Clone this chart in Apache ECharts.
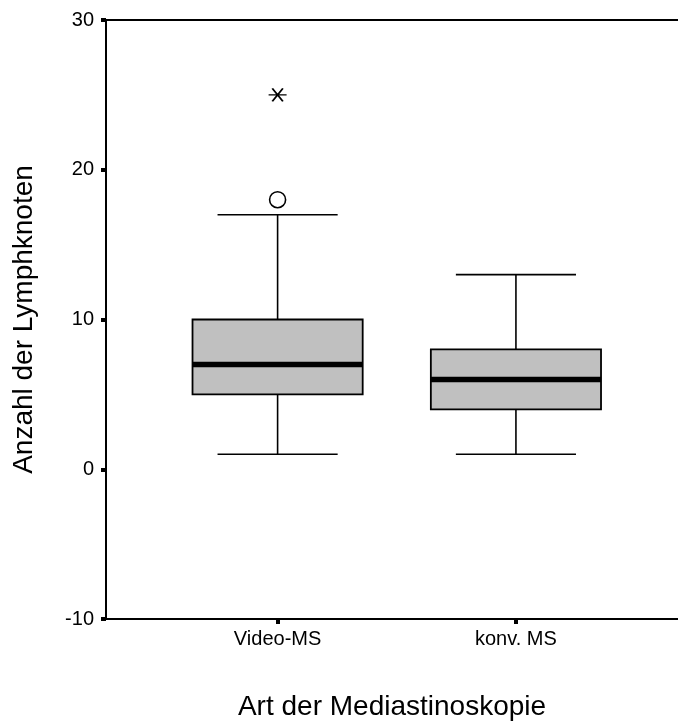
<!DOCTYPE html>
<html>
<head>
<meta charset="utf-8">
<script src="https://cdn.jsdelivr.net/npm/echarts@6/dist/echarts.min.js"></script>
<style>
html,body{margin:0;padding:0;background:#fff;}
#chart{width:678px;height:726px;}
</style>
</head>
<body>
<div id="chart"></div>
<script>
// ---- data ----
var categories = ['Video-MS', 'konv. MS'];
var whiskerLow = [1, 1];
var q1 = [5, 4];
var median = [7, 6];
var q3 = [10, 8];
var whiskerHigh = [17, 13];
var outlierPoints = [[0, 18]];   // [category index, value]  (circle)
var extremePoints = [[0, 25]];   // [category index, value]  (asterisk)
var yTicks = [-10, 0, 10, 20, 30];

// ---- build ----
var FONT = '"Liberation Sans", Arial, Helvetica, sans-serif';
var boxData = categories.map(function (c, i) {
  return [i + 1, whiskerLow[i], q1[i], median[i], q3[i], whiskerHigh[i]];
});
var outData = outlierPoints.map(function (p) { return [p[0] + 1, p[1]]; });
var extData = extremePoints.map(function (p) { return [p[0] + 1, p[1]]; });
var tickPos = categories.map(function (c, i) { return i + 1; });

var BOX_W = 0.714;  // in category units
var CAP_W = 0.504;

var chart = echarts.init(document.getElementById('chart'), null, {renderer: 'canvas'});
chart.setOption({
  animation: false,
  backgroundColor: '#fff',
  grid: {left: 106, right: 0, top: 20, bottom: 103, containLabel: false},
  xAxis: [{
    type: 'value', min: 0.28, max: 2.68, position: 'bottom',
    axisLine: {show: true, onZero: false, lineStyle: {color: '#000', width: 2}},
    axisTick: {show: true, customValues: tickPos, length: 5, lineStyle: {color: '#000', width: 4}},
    axisLabel: {show: true, customValues: tickPos, margin: 10, color: '#000', fontSize: 20, fontFamily: FONT,
      formatter: function (v) { return categories[Math.round(v) - 1] || ''; }},
    splitLine: {show: false},
    name: 'Art der Mediastinoskopie', nameLocation: 'middle', nameGap: 88,
    nameTextStyle: {color: '#000', fontSize: 28, fontFamily: FONT, verticalAlign: 'middle'}
  }, {
    type: 'value', min: 0.28, max: 2.68, position: 'top',
    axisLine: {show: true, onZero: false, lineStyle: {color: '#000', width: 2}},
    axisTick: {show: false}, axisLabel: {show: false}, splitLine: {show: false}
  }],
  yAxis: {
    type: 'value', min: yTicks[0], max: yTicks[yTicks.length - 1], interval: 10,
    axisLine: {show: true, onZero: false, lineStyle: {color: '#000', width: 2}},
    axisTick: {show: true, length: 5, lineStyle: {color: '#000', width: 4}},
    axisLabel: {color: '#000', fontSize: 20, fontFamily: FONT, margin: 12},
    splitLine: {show: false},
    name: 'Anzahl der Lymphknoten', nameLocation: 'middle', nameGap: 82,
    nameTextStyle: {color: '#000', fontSize: 28, fontFamily: FONT, verticalAlign: 'middle'}
  },
  series: [{
    type: 'custom',
    xAxisIndex: 0,
    data: boxData,
    encode: {x: 0, y: [1, 2, 3, 4, 5]},
    renderItem: function (params, api) {
      var x = api.value(0);
      var pMin = api.coord([x, api.value(1)]);
      var pQ1 = api.coord([x, api.value(2)]);
      var pMed = api.coord([x, api.value(3)]);
      var pQ3 = api.coord([x, api.value(4)]);
      var pMax = api.coord([x, api.value(5)]);
      var cx = pMin[0];
      var bh = api.size([BOX_W, 0])[0] / 2;
      var ch = api.size([CAP_W, 0])[0] / 2;
      var ls = {stroke: '#000', lineWidth: 1.6};
      return {
        type: 'group',
        children: [
          {type: 'line', shape: {x1: cx, y1: pMin[1], x2: cx, y2: pQ1[1]}, style: ls},
          {type: 'line', shape: {x1: cx, y1: pQ3[1], x2: cx, y2: pMax[1]}, style: ls},
          {type: 'line', shape: {x1: cx - ch, y1: pMin[1], x2: cx + ch, y2: pMin[1]}, style: ls},
          {type: 'line', shape: {x1: cx - ch, y1: pMax[1], x2: cx + ch, y2: pMax[1]}, style: ls},
          {type: 'rect', shape: {x: cx - bh, y: pQ3[1], width: 2 * bh, height: pQ1[1] - pQ3[1]},
            style: {fill: '#c0c0c0', stroke: '#000', lineWidth: 1.8}},
          {type: 'line', shape: {x1: cx - bh, y1: pMed[1], x2: cx + bh, y2: pMed[1]},
            style: {stroke: '#000', lineWidth: 5.5}}
        ]
      };
    }
  }, {
    type: 'scatter',
    data: outData,
    symbol: 'circle',
    symbolSize: 16,
    itemStyle: {color: '#fff', borderColor: '#000', borderWidth: 1.6, opacity: 1}
  }, {
    type: 'scatter',
    data: extData,
    symbol: 'path://M0,6.5 L17,6.5 M3.5,0 L13.5,13 M13.5,0 L3.5,13',
    symbolSize: [18, 13],
    itemStyle: {color: 'none', borderColor: '#000', borderWidth: 1.6, opacity: 1}
  }]
});
</script>
</body>
</html>
